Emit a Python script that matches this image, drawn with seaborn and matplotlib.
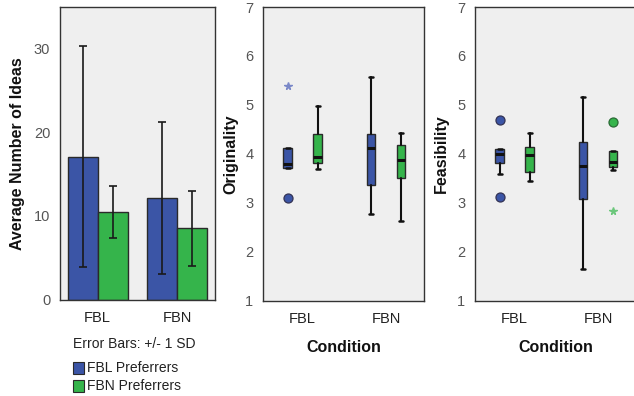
import numpy as np
import pandas as pd
import matplotlib
matplotlib.use("Agg")
import matplotlib.pyplot as plt
import seaborn as sns

# ---- data -------------------------------------------------------------
conditions = ["FBL", "FBN"]
groups = ["FBL Preferrers", "FBN Preferrers"]

# average number of ideas (mean, SD) per group, by condition
ideas_mean_fbl_pref = [17.1, 12.1]
ideas_sd_fbl_pref = [13.2, 9.1]
ideas_mean_fbn_pref = [10.5, 8.5]
ideas_sd_fbn_pref = [3.1, 4.5]

# box summaries: order = [FBL cond / FBL pref, FBL cond / FBN pref,
#                         FBN cond / FBL pref, FBN cond / FBN pref]
orig_q1 = [3.71, 3.82, 3.37, 3.51]
orig_med = [3.79, 3.94, 4.11, 3.88]
orig_q3 = [4.12, 4.41, 4.40, 4.18]
orig_lo = [3.71, 3.69, 2.77, 2.63]
orig_hi = [4.12, 4.98, 5.57, 4.43]
orig_outliers = [[3.10], [], [], []]
orig_extremes = [[5.39], [], [], []]

feas_q1 = [3.81, 3.62, 3.08, 3.72]
feas_med = [3.99, 3.97, 3.74, 3.84]
feas_q3 = [4.10, 4.13, 4.24, 4.06]
feas_lo = [3.59, 3.45, 1.65, 3.67]
feas_hi = [4.10, 4.43, 5.16, 4.06]
feas_outliers = [[4.69, 3.11], [], [], [4.65]]
feas_extremes = [[], [], [], [2.82]]

# ---- style ------------------------------------------------------------
BLUE = "#3b55a6"
GREEN = "#35b44b"
BLUE_LIGHT = "#7a88c8"
GREEN_LIGHT = "#6cc77c"
PANEL_BG = "#efefef"
EDGE = "#2a2a2a"

sns.set_theme(style="white")
plt.rcParams["font.family"] = ["Liberation Sans", "DejaVu Sans"]
plt.rcParams["axes.edgecolor"] = "#333333"
plt.rcParams["axes.linewidth"] = 1.0

W, H = 634, 396
fig = plt.figure(figsize=(W / 100, H / 100), dpi=100)


def add_axes_px(left, top, right, bottom):
    return fig.add_axes([left / W, 1 - bottom / H, (right - left) / W, (bottom - top) / H])


def style_axes(ax):
    ax.set_facecolor(PANEL_BG)
    for s in ax.spines.values():
        s.set_visible(True)
        s.set_color("#333333")
        s.set_linewidth(1.0)
    ax.tick_params(axis="both", direction="out", length=5, width=1, color="#333333",
                   labelsize=10.5, pad=2)
    ax.tick_params(axis="y", labelcolor="#555555")
    ax.tick_params(axis="x", labelcolor="#222222", pad=3)


# ---- panel 1: bar chart ----------------------------------------------
ax1 = add_axes_px(60, 7, 215, 299.5)
bars = pd.DataFrame({
    "Condition": conditions * 2,
    "Group": [groups[0]] * 2 + [groups[1]] * 2,
    "Ideas": ideas_mean_fbl_pref + ideas_mean_fbn_pref,
})
sns.barplot(data=bars, x="Condition", y="Ideas", hue="Group", order=conditions,
            hue_order=groups, palette=[BLUE, GREEN], saturation=1, width=0.75,
            errorbar=None, edgecolor=EDGE, linewidth=1.0, legend=False, ax=ax1)

sds = [ideas_sd_fbl_pref, ideas_sd_fbn_pref]
for container, sd in zip(ax1.containers, sds):
    xs = [p.get_x() + p.get_width() / 2 for p in container.patches]
    ys = [p.get_height() for p in container.patches]
    ax1.errorbar(xs, ys, yerr=sd, fmt="none", ecolor="#1a1a1a", elinewidth=1.2,
                 capsize=2.6, capthick=1.2, zorder=5)

ax1.set_xlim(-0.47, 1.47)
ax1.set_ylim(0, 35)
ax1.set_yticks([0, 10, 20, 30])
ax1.set_xlabel("")
ax1.set_ylabel("Average Number of Ideas", fontsize=11.5, fontweight="bold", color="#111111")
ax1.yaxis.set_label_coords(-0.225, 0.5)
style_axes(ax1)

# legend block under the bar chart
fig.text(73 / W, 1 - 344 / H, "Error Bars: +/- 1 SD", fontsize=10, color="#222222",
         va="center", ha="left")
for label, color, yc in [(groups[0], BLUE, 368), (groups[1], GREEN, 386)]:
    fig.patches.append(matplotlib.patches.Rectangle(
        (73 / W, 1 - (yc + 6) / H), 11 / W, 12 / H, transform=fig.transFigure,
        facecolor=color, edgecolor=EDGE, linewidth=0.8))
    fig.text(87 / W, 1 - yc / H, label, fontsize=10, color="#222222",
             va="center", ha="left")


# ---- panels 2 & 3: box plots -----------------------------------------
def draw_boxes(ax, q1, med, q3, lo, hi, outliers, extremes, ylabel):
    offsets = [-0.18, 0.18]
    fills = [BLUE, GREEN]
    lights = [BLUE_LIGHT, GREEN_LIGHT]
    k = 0
    for ci in range(len(conditions)):
        for gi in range(len(groups)):
            pos = ci + offsets[gi]
            stats = [dict(q1=q1[k], med=med[k], q3=q3[k], whislo=lo[k], whishi=hi[k],
                          fliers=[])]
            ax.bxp(stats, positions=[pos], widths=0.105, capwidths=0.05,
                   patch_artist=True, showfliers=False, manage_ticks=False,
                   boxprops=dict(facecolor=fills[gi], edgecolor=EDGE, linewidth=1.0),
                   medianprops=dict(color="#111111", linewidth=2.2),
                   whiskerprops=dict(color="#111111", linewidth=1.5),
                   capprops=dict(color="#111111", linewidth=1.8))
            if outliers[k]:
                ax.plot([pos] * len(outliers[k]), outliers[k], "o", ms=6.5,
                        mfc=fills[gi], mec="#333355" if gi == 0 else "#2a6a35",
                        mew=0.9, zorder=6)
            if extremes[k]:
                ax.plot([pos] * len(extremes[k]), extremes[k], "*", ms=5.5,
                        color=lights[gi], zorder=6)
            k += 1
    ax.set_xlim(-0.475, 1.455)
    ax.set_ylim(1, 7)
    ax.set_yticks(range(1, 8))
    ax.set_xticks(range(len(conditions)))
    ax.set_xticklabels(conditions)
    ax.set_xlabel("Condition", fontsize=11.5, fontweight="bold", color="#111111")
    ax.xaxis.set_label_coords(0.5, -0.135)
    ax.set_ylabel(ylabel, fontsize=11.5, fontweight="bold", color="#111111")
    style_axes(ax)


ax2 = add_axes_px(263, 7, 424, 300.5)
draw_boxes(ax2, orig_q1, orig_med, orig_q3, orig_lo, orig_hi,
           orig_outliers, orig_extremes, "Originality")
ax2.yaxis.set_label_coords(-0.15, 0.5)

ax3 = add_axes_px(475, 7, 636, 300.5)
draw_boxes(ax3, feas_q1, feas_med, feas_q3, feas_lo, feas_hi,
           feas_outliers, feas_extremes, "Feasibility")
ax3.yaxis.set_label_coords(-0.16, 0.5)

fig.savefig("out.png", dpi=100, facecolor="white")
